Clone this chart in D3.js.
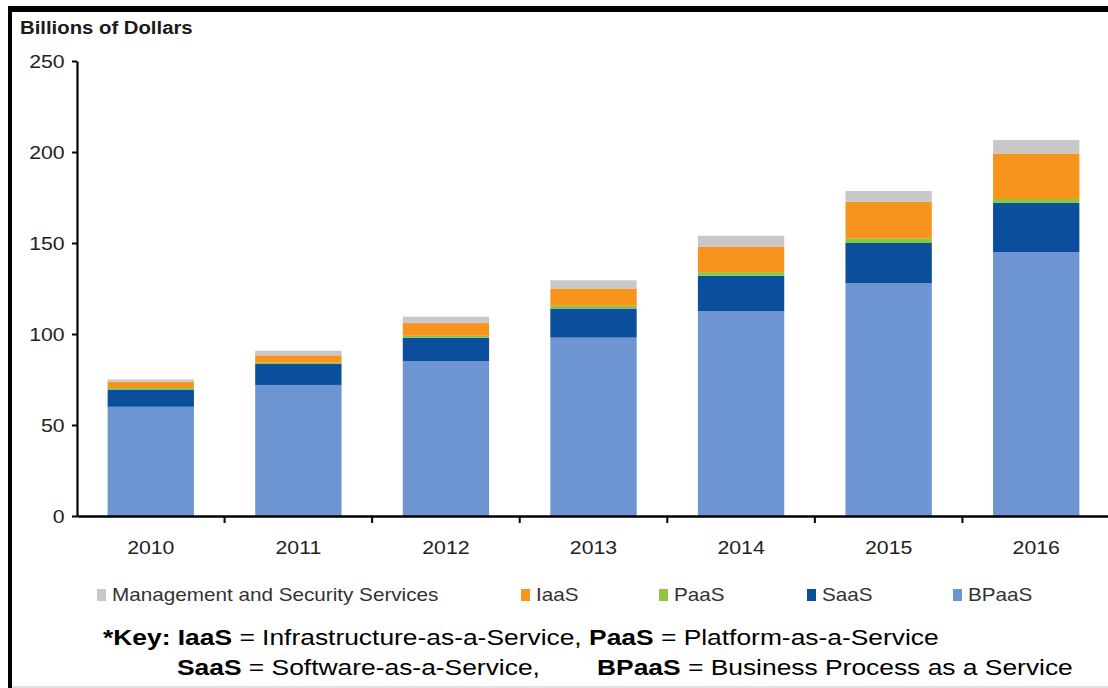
<!DOCTYPE html>
<html>
<head>
<meta charset="utf-8">
<script src="https://cdn.jsdelivr.net/npm/d3@7"></script>
<style>
  body { margin: 0; background: #fff; }
  svg { display: block; font-family: Arial, "Liberation Sans", sans-serif; }
</style>
</head>
<body>
<div id="chart"></div>
<script>
// data (billions of dollars)
const years = ["2010", "2011", "2012", "2013", "2014", "2015", "2016"];
const bpaas = [60, 72, 85, 98, 112.5, 128, 145];
const saas = [9.5, 11.5, 13, 16, 19.5, 22, 27];
const paas = [0.8, 0.8, 1, 1.5, 2, 2.6, 2.2];
const iaas = [3.5, 4, 7, 9.5, 14, 20, 25];
const mgmt = [1.2, 2.5, 3.5, 4.5, 6, 6, 7.4];
const yTicks = [0, 50, 100, 150, 200, 250];

// stacking order bottom -> top, legend order is reversed
const seriesKeys = ["BPaaS", "SaaS", "PaaS", "IaaS", "Mgmt"];
const seriesValues = { BPaaS: bpaas, SaaS: saas, PaaS: paas, IaaS: iaas, Mgmt: mgmt };
const colors = { BPaaS: "#6d95d1", SaaS: "#0b4f9c", PaaS: "#8cc63e", IaaS: "#f7941d", Mgmt: "#c8c8c8" };
const legendLabels = ["Management and Security Services", "IaaS", "PaaS", "SaaS", "BPaaS"];
const legendKeys = ["Mgmt", "IaaS", "PaaS", "SaaS", "BPaaS"];
const legendX = [97, 521, 659, 807, 953];

const W = 1108, H = 688;
const svg = d3.select("#chart").append("svg")
    .attr("width", W)
    .attr("height", H);

// frame (picture is cropped: only top and left edge show)
svg.append("rect").attr("x", 8).attr("y", 6).attr("width", W - 8).attr("height", 6).attr("fill", "#000");
svg.append("rect").attr("x", 8).attr("y", 6).attr("width", 4).attr("height", H - 6).attr("fill", "#000");
svg.append("rect").attr("x", 12).attr("y", H - 2).attr("width", W - 12).attr("height", 2).attr("fill", "#e2e2e2");

const plotLeft = 77, plotRight = 1110, plotTop = 61, plotBottom = 516;

const table = years.map((yr, i) => {
    const row = { year: yr };
    seriesKeys.forEach(k => row[k] = seriesValues[k][i]);
    return row;
});
const stacked = d3.stack().keys(seriesKeys)(table);

const pad = 0.415;
const x = d3.scaleBand()
    .domain(years)
    .range([plotLeft, plotRight])
    .paddingInner(pad)
    .paddingOuter(pad / 2);

const y = d3.scaleLinear()
    .domain([0, 250])
    .range([plotBottom, plotTop]);

// bars
svg.append("g")
    .selectAll("g")
    .data(stacked)
    .enter().append("g")
    .attr("fill", d => colors[d.key])
    .selectAll("rect")
    .data(d => d)
    .enter().append("rect")
    .attr("x", d => x(d.data.year))
    .attr("width", x.bandwidth())
    .attr("y", d => y(d[1]))
    .attr("height", d => y(d[0]) - y(d[1]));

// y axis
const yAxis = svg.append("g")
    .attr("transform", `translate(${plotLeft},0)`)
    .call(d3.axisLeft(y).tickValues(yTicks).tickSize(5).tickSizeOuter(0).tickPadding(6));
yAxis.select(".domain").attr("stroke", "#000").attr("stroke-width", 2.2);
yAxis.selectAll(".tick line").attr("stroke", "#000").attr("stroke-width", 2);
yAxis.selectAll("text")
    .attr("font-size", 19)
    .attr("fill", "#222")
    .attr("transform", "scale(1.12,1)");

// x axis: labels centred, ticks between the categories
const xAxis = svg.append("g")
    .attr("transform", `translate(0,${plotBottom})`)
    .call(d3.axisBottom(x).tickSize(0).tickPadding(25));
xAxis.select(".domain").attr("stroke", "#000").attr("stroke-width", 2.6);
xAxis.selectAll("text")
    .attr("font-size", 19)
    .attr("fill", "#222")
    .attr("transform", "scale(1.12,1)");

const step = x.step();
svg.append("g")
    .selectAll("line")
    .data(years.slice(1))
    .enter().append("line")
    .attr("x1", d => x(d) - step * pad / 2)
    .attr("x2", d => x(d) - step * pad / 2)
    .attr("y1", plotBottom)
    .attr("y2", plotBottom + 7)
    .attr("stroke", "#000")
    .attr("stroke-width", 2);

// axis title
svg.append("text")
    .attr("transform", "translate(20,34) scale(1.07,1)")
    .attr("font-size", 19)
    .attr("font-weight", "bold")
    .attr("fill", "#1a1a1a")
    .text("Billions of Dollars");

// legend
const legend = svg.append("g")
    .selectAll("g")
    .data(legendKeys)
    .enter().append("g")
    .attr("transform", (d, i) => `translate(${legendX[i]},589)`);
legend.append("rect")
    .attr("width", 9)
    .attr("height", 12)
    .attr("fill", d => colors[d]);
legend.append("text")
    .attr("transform", "translate(15,12) scale(1.15,1)")
    .attr("font-size", 18)
    .attr("fill", "#333")
    .text((d, i) => legendLabels[i]);

// key lines
function keyLine(tx, ty, parts) {
    const t = svg.append("text")
        .attr("transform", `translate(${tx},${ty}) scale(1.2,1)`)
        .attr("font-size", 22)
        .attr("fill", "#000");
    parts.forEach(p => t.append("tspan")
        .attr("font-weight", p[1] ? "bold" : "normal")
        .text(p[0]));
}
keyLine(103, 645, [["*Key: IaaS", true], [" = Infrastructure-as-a-Service, ", false],
    ["PaaS", true], [" = Platform-as-a-Service", false]]);
keyLine(177, 675, [["SaaS", true], [" = Software-as-a-Service,", false]]);
keyLine(597, 675, [["BPaaS", true], [" = Business Process as a Service", false]]);
</script>
</body>
</html>
